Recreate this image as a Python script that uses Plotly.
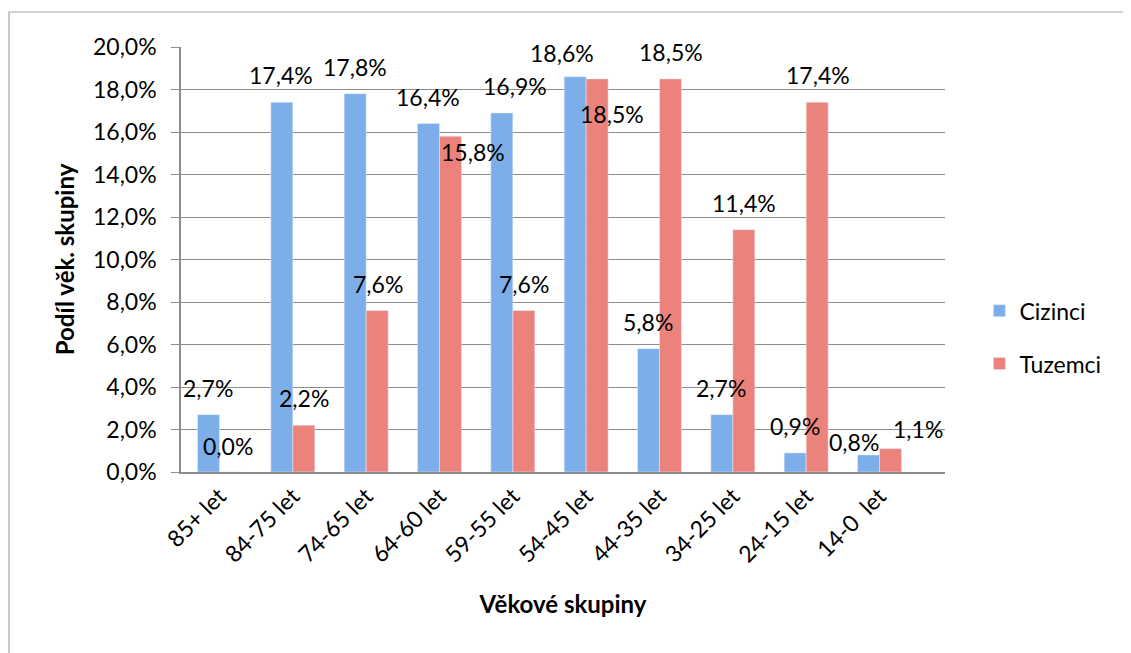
import plotly.graph_objects as go

categories = ["85+ let", "84-75 let", "74-65 let", "64-60 let", "59-55 let",
              "54-45 let", "44-35 let", "34-25 let", "24-15 let", "14-0\u00a0 let"]
cizinci = [2.7, 17.4, 17.8, 16.4, 16.9, 18.6, 5.8, 2.7, 0.9, 0.8]
tuzemci = [0.0, 2.2, 7.6, 15.8, 7.6, 18.5, 18.5, 11.4, 17.4, 1.1]
y_ticks = [0, 2, 4, 6, 8, 10, 12, 14, 16, 18, 20]

FONT = "Lato, 'Open Sans', sans-serif"
BLUE = "#7cafea"
RED = "#ec827c"
FS = 23

def fmt(v):
    return f"{v:.1f}".replace(".", ",") + "%"

fig = go.Figure()
fig.add_trace(go.Bar(x=categories, y=cizinci, name="Cizinci", marker_color=BLUE,
                     legendgroup="a", hovertemplate="%{x}: %{y:.1f}%<extra>Cizinci</extra>"))
fig.add_trace(go.Bar(x=categories, y=tuzemci, name="Tuzemci", marker_color=RED,
                     legendgroup="b", hovertemplate="%{x}: %{y:.1f}%<extra>Tuzemci</extra>"))

# label placement tweaks (pixel offsets from default position above each bar)
half = 11.5
ciz_adj = {4: (14, 27), 5: (-13, 24), 9: (-14, 13.5)}
tuz_adj = {0: (-3, 26.5), 3: (22, -16), 5: (14, -35), 9: (27, 20)}

annotations = []
for i, (c, v) in enumerate(zip(categories, cizinci)):
    dx, dy = ciz_adj.get(i, (0, 27))
    annotations.append(dict(x=c, y=v, xref="x", yref="y", text=fmt(v), showarrow=False,
                            xshift=-half + dx, yshift=dy, yanchor="middle",
                            font=dict(family=FONT, size=FS, color="#000")))
for i, (c, v) in enumerate(zip(categories, tuzemci)):
    dx, dy = tuz_adj.get(i, (0, 27))
    annotations.append(dict(x=c, y=v, xref="x", yref="y", text=fmt(v), showarrow=False,
                            xshift=half + dx, yshift=dy, yanchor="middle",
                            font=dict(family=FONT, size=FS, color="#000")))

fig.update_layout(
    width=1131, height=653,
    margin=dict(l=173, r=194, t=39, b=189),
    paper_bgcolor="white", plot_bgcolor="white",
    separators=", ",
    barmode="group", bargap=0.4, bargroupgap=0,
    font=dict(family=FONT, size=FS, color="#000"),
    annotations=annotations,
    showlegend=True,
    legend=dict(x=1.045, xanchor="left", y=0.43, yanchor="top",
                tracegroupgap=20, font=dict(family=FONT, size=FS),
                bgcolor="rgba(0,0,0,0)"),
    shapes=[dict(type="path", xref="paper", yref="paper",
                 path="M 1.4,1.0824 L -0.2251,1.0824 L -0.2251,-0.5",
                 line=dict(color="#a6a6a6", width=1.2), layer="below")],
)

fig.update_xaxes(
    type="category", showgrid=False, showline=True, linecolor="#8c8c8c", linewidth=1.5,
    tickangle=-45, ticks="", tickfont=dict(family=FONT, size=FS),
    title=dict(text="<b>Věkové skupiny</b>", font=dict(family=FONT, size=24), standoff=30),
)
fig.update_yaxes(
    range=[0, 20], tickmode="array", tickvals=y_ticks, ticktext=[fmt(t) for t in y_ticks],
    showgrid=True, gridcolor="#8c8c8c", gridwidth=1.2,
    showline=True, linecolor="#8c8c8c", linewidth=1.5,
    ticks="outside", ticklen=8, tickcolor="#8c8c8c", tickwidth=1.2,
    ticklabelstandoff=10,
    tickfont=dict(family=FONT, size=FS), zeroline=False,
    title=dict(text="<b>Podíl věk. skupiny</b>", font=dict(family=FONT, size=24), standoff=12),
)

fig.write_html("out.html")
